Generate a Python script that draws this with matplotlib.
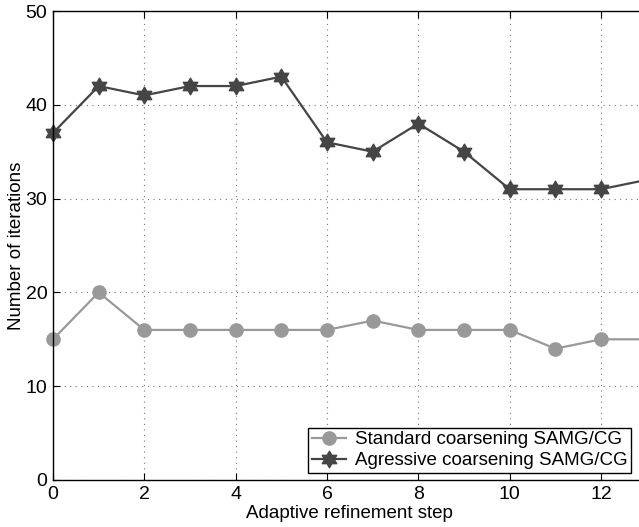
import matplotlib
matplotlib.use("Agg")
import matplotlib.pyplot as plt
from matplotlib.path import Path
import numpy as np

# data
steps = np.arange(0, 14)
standard = [15, 20, 16, 16, 16, 16, 16, 17, 16, 16, 16, 14, 15, 15]
agressive = [37, 42, 41, 42, 42, 43, 36, 35, 38, 35, 31, 31, 31, 32]

plt.rcParams['font.family'] = ['Liberation Sans', 'DejaVu Sans']

# six pointed star marker (hexagram)
ang = np.pi / 2 + np.arange(12) * np.pi / 6
rad = np.where(np.arange(12) % 2 == 0, 1.0, 0.577)
verts = np.column_stack([rad * np.cos(ang), rad * np.sin(ang)])
verts = np.vstack([verts, verts[:1]])
hexagram = Path(verts, closed=True)

fig = plt.figure(figsize=(6.39, 5.27), dpi=100)
# axes run a little past the right edge, like the cropped original
px = 45.67 / 639.
ax = fig.add_axes([53 / 639., 47 / 527., 13 * px, 469 / 527.])

ax.plot(steps, standard, color='#999999', lw=1.6, marker='o', ms=9.5,
        mfc='#999999', mec='#999999', label='Standard coarsening SAMG/CG',
        clip_on=False)
ax.plot(steps, agressive, color='#454545', lw=1.6, marker=hexagram, ms=12,
        mfc='#454545', mec='#454545', label='Agressive coarsening SAMG/CG',
        clip_on=False)

ax.set_xlim(0, 13)
ax.set_ylim(0, 50)
ax.set_xticks(np.arange(0, 13, 2))
ax.set_yticks(np.arange(0, 51, 10))
ax.grid(True, color='#777777', lw=0.8, dashes=(1, 4))
ax.tick_params(direction='in', top=True, right=True, labelsize=14, length=5,
               pad=4)
for s in ax.spines.values():
    s.set_linewidth(1.0)

ax.set_xlabel('Adaptive refinement step', fontsize=13.5, labelpad=2)
ax.set_ylabel('Number of iterations', fontsize=13.5, labelpad=0.5)

leg = fig.legend(loc='lower left', bbox_to_anchor=(308 / 639., 54 / 527.),
                 fontsize=13.5, frameon=True, fancybox=False, edgecolor='black',
                 borderpad=0.2, labelspacing=0.2, handlelength=1.8,
                 handletextpad=0.5, borderaxespad=0, framealpha=1)
leg.get_frame().set_linewidth(1.0)

fig.savefig('out.png', dpi=100)
